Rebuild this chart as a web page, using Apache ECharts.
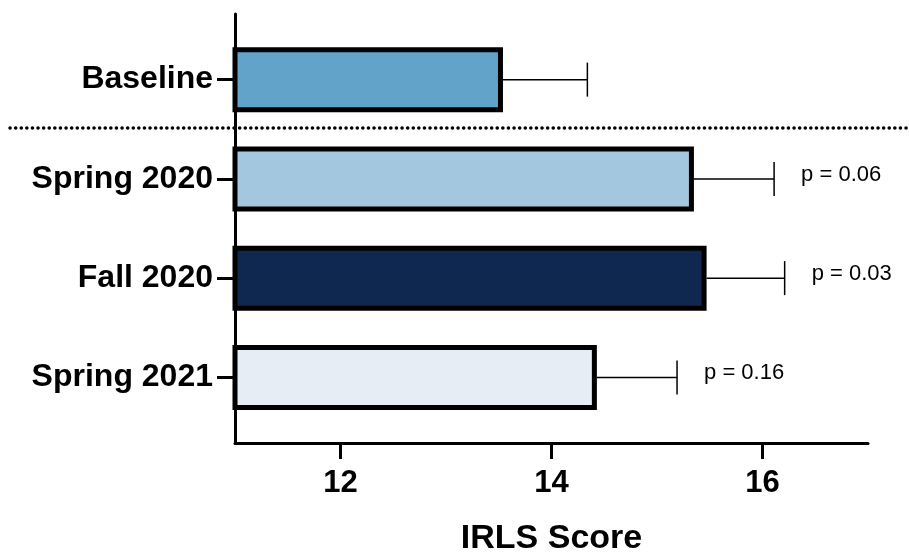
<!DOCTYPE html>
<html>
<head>
<meta charset="utf-8">
<script src="https://cdn.jsdelivr.net/npm/echarts@6/dist/echarts.min.js"></script>
<style>
html,body{margin:0;padding:0;background:#fff;}
#chart{width:909px;height:553px;}
</style>
</head>
<body>
<div id="chart"></div>
<script>
// ---- data ----
const categories = ['Baseline', 'Spring 2020', 'Fall 2020', 'Spring 2021'];
const means = [13.54, 15.35, 15.47, 14.43];
const upperErrors = [14.34, 16.11, 16.21, 15.19];
const pLabels = ['', 'p = 0.06', 'p = 0.03', 'p = 0.16'];
const barColors = ['#62a3c9', '#a3c7df', '#0e2850', '#e6edf5'];
const xTickValues = [12, 14, 16];
const xMin = 11, xMax = 17;
const xTitle = 'IRLS Score';

const FONT = "'Liberation Sans', Arial, Helvetica, sans-serif";

const chart = echarts.init(document.getElementById('chart'), null, {renderer: 'canvas'});

const barData = means.map((v, i) => ({
  value: v,
  itemStyle: {color: barColors[i], borderColor: '#000', borderWidth: 5}
}));
const errData = categories.map((c, i) => [i, means[i], upperErrors[i], pLabels[i]]);

const option = {
  animation: false,
  backgroundColor: '#fff',
  grid: [
    {left: 235, right: 41, top: 30, bottom: 126, containLabel: false, outerBoundsMode: 'none'},
    {left: 235, right: 41, top: 14, bottom: 110, containLabel: false, outerBoundsMode: 'none'}
  ],
  xAxis: [
    {
      gridIndex: 0, type: 'value', min: xMin, max: xMax,
      show: false, splitLine: {show: false}
    },
    {
      gridIndex: 1, type: 'value', min: xMin, max: xMax,
      axisLine: {show: true, lineStyle: {color: '#000', width: 3}},
      axisTick: {show: true, length: 16, lineStyle: {color: '#000', width: 3}, customValues: xTickValues},
      axisLabel: {
        show: true, margin: 25, customValues: xTickValues,
        color: '#000', fontSize: 31, fontWeight: 'bold', fontFamily: FONT
      },
      splitLine: {show: false},
      name: xTitle, nameLocation: 'middle', nameGap: 79,
      nameTextStyle: {color: '#000', fontSize: 34, fontWeight: 'bold', fontFamily: FONT}
    }
  ],
  yAxis: [
    {
      gridIndex: 0, type: 'category', data: categories, inverse: true,
      axisLine: {show: false},
      axisTick: {show: true, alignWithLabel: true, length: 18, lineStyle: {color: '#000', width: 3}},
      axisLabel: {
        show: true, margin: 22, color: '#000', fontSize: 32, fontWeight: 'bold', fontFamily: FONT
      },
      splitLine: {show: false}
    },
    {
      gridIndex: 1, type: 'value', min: 0, max: 1,
      axisLine: {show: true, lineStyle: {color: '#000', width: 3}},
      axisTick: {show: false}, axisLabel: {show: false}, splitLine: {show: false}
    }
  ],
  series: [
    {
      type: 'bar', xAxisIndex: 0, yAxisIndex: 0,
      data: barData, barWidth: 65, z: 2
    },
    {
      type: 'custom', xAxisIndex: 0, yAxisIndex: 0,
      data: errData,
      encode: {x: [1, 2], y: 0},
      z: 3,
      renderItem: function (params, api) {
        const idx = api.value(0);
        const p0 = api.coord([api.value(1), idx]);
        const p1 = api.coord([api.value(2), idx]);
        const capH = 34;
        const label = pLabels[params.dataIndex];
        const children = [
          {type: 'line', shape: {x1: p0[0], y1: p0[1], x2: p1[0], y2: p1[1]},
           style: {stroke: '#000', lineWidth: 1.5}},
          {type: 'line', shape: {x1: p1[0], y1: p1[1] - capH / 2, x2: p1[0], y2: p1[1] + capH / 2},
           style: {stroke: '#000', lineWidth: 1.5}}
        ];
        if (label) {
          children.push({
            type: 'text',
            style: {
              text: label, x: p1[0] + 27, y: p1[1] - 4,
              fill: '#000', font: '22px ' + FONT,
              verticalAlign: 'middle', align: 'left'
            }
          });
        }
        return {type: 'group', children: children};
      }
    }
  ],
  graphic: [
    {
      type: 'line', z: 10,
      shape: {x1: 10, y1: 128, x2: 909, y2: 128},
      style: {stroke: '#000', lineWidth: 3.5, lineDash: [0.1, 5.5], lineCap: 'round'}
    }
  ]
};

chart.setOption(option);
</script>
</body>
</html>
